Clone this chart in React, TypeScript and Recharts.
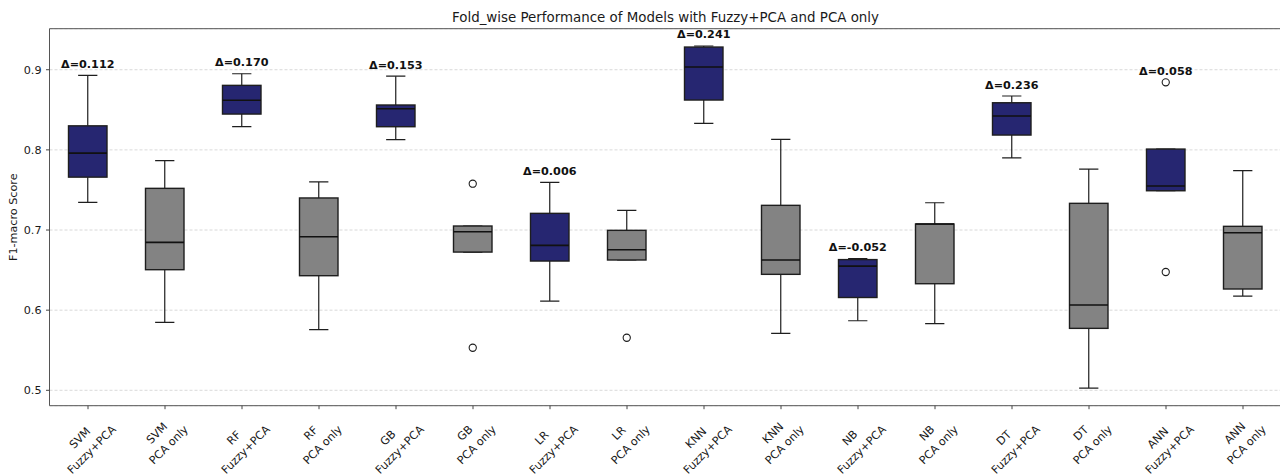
import React from 'react';
import { ComposedChart, Bar, XAxis, YAxis, CartesianGrid, ReferenceLine } from 'recharts';

// ---- data ----
const MODELS = ['SVM', 'RF', 'GB', 'LR', 'KNN', 'NB', 'DT', 'ANN'];
const GROUPS = ['Fuzzy+PCA', 'PCA only'];

// [whiskerLow, q1, median, q3, whiskerHigh]
const FUZZY_STATS = [
  [0.7345, 0.766, 0.796, 0.83, 0.893],
  [0.829, 0.8447, 0.862, 0.8805, 0.895],
  [0.8127, 0.8289, 0.8513, 0.856, 0.892],
  [0.6114, 0.6613, 0.6809, 0.7208, 0.7595],
  [0.8331, 0.8622, 0.9034, 0.9283, 0.9296],
  [0.5868, 0.6158, 0.6549, 0.6631, 0.6643],
  [0.79, 0.8185, 0.8422, 0.8588, 0.8672],
  [0.749, 0.749, 0.7549, 0.801, 0.801],
];
const PCA_STATS = [
  [0.5848, 0.6505, 0.6846, 0.752, 0.7865],
  [0.5756, 0.643, 0.6916, 0.74, 0.76],
  [0.6725, 0.6725, 0.6979, 0.705, 0.705],
  [0.6626, 0.6626, 0.6754, 0.6996, 0.7246],
  [0.5711, 0.6447, 0.6626, 0.7308, 0.8131],
  [0.5831, 0.633, 0.7075, 0.7075, 0.734],
  [0.5028, 0.5773, 0.6064, 0.7333, 0.7761],
  [0.6176, 0.6264, 0.6966, 0.7046, 0.774],
];
const FUZZY_OUTLIERS = [[], [], [], [], [], [], [], [0.6476, 0.8843]];
const PCA_OUTLIERS = [[], [], [0.5531, 0.7578], [0.5656], [], [], [], []];
const DELTAS = ['0.112', '0.170', '0.153', '0.006', '0.241', '-0.052', '0.236', '0.058'];

const Y_TICKS = [0.5, 0.6, 0.7, 0.8, 0.9];
const Y_DOMAIN = [0.4808, 0.9512];
const LABEL_OFFSET = 0.01;

const TITLE = 'Fold_wise Performance of Models with Fuzzy+PCA and PCA only';
const Y_LABEL = 'F1-macro Score';

const FUZZY_COLOR = '#262671';
const PCA_COLOR = '#838383';
const FONT = 'DejaVu Sans, sans-serif';
const FS = 11.2;
const LINE_GAP = 17;

type Row = {
  name: string;
  kind: 'fuzzy' | 'pca';
  stats: number[];
  outliers: number[];
  delta: string | null;
  lo: number;
  hi: number;
};

const rows: Row[] = MODELS.flatMap((m, i) => {
  const mk = (kind: 'fuzzy' | 'pca', stats: number[], outliers: number[], delta: string | null): Row => ({
    name: `${m}\n${kind === 'fuzzy' ? GROUPS[0] : GROUPS[1]}`,
    kind,
    stats,
    outliers,
    delta,
    lo: Math.min(stats[0], ...outliers),
    hi: Math.max(stats[4], ...outliers),
  });
  return [
    mk('fuzzy', FUZZY_STATS[i], FUZZY_OUTLIERS[i], DELTAS[i]),
    mk('pca', PCA_STATS[i], PCA_OUTLIERS[i], null),
  ];
});

let measureCtx: CanvasRenderingContext2D | null = null;
const textWidth = (s: string) => {
  try {
    if (!measureCtx) measureCtx = document.createElement('canvas').getContext('2d');
    if (measureCtx) {
      measureCtx.font = `${FS}px "DejaVu Sans"`;
      return measureCtx.measureText(s).width;
    }
  } catch (e) {
    /* ignore */
  }
  return s.length * FS * 0.6;
};

const BoxShape = (props: any) => {
  const { x, y, width, height, payload } = props;
  const r: Row = payload;
  const top = Math.min(y, y + height);
  const bottom = Math.max(y, y + height);
  const span = r.hi - r.lo;
  const pix = (v: number) => bottom - ((v - r.lo) / span) * (bottom - top);
  const [wl, q1, med, q3, wh] = r.stats;
  const cx = x + width / 2;
  const capHalf = width / 4;
  const fill = r.kind === 'fuzzy' ? FUZZY_COLOR : PCA_COLOR;
  const edge = '#1e1e1e';
  return (
    <g>
      <line x1={cx} x2={cx} y1={pix(q3)} y2={pix(wh)} stroke={edge} strokeWidth={1.2} />
      <line x1={cx} x2={cx} y1={pix(q1)} y2={pix(wl)} stroke={edge} strokeWidth={1.2} />
      <line x1={cx - capHalf} x2={cx + capHalf} y1={pix(wh)} y2={pix(wh)} stroke={edge} strokeWidth={1.2} />
      <line x1={cx - capHalf} x2={cx + capHalf} y1={pix(wl)} y2={pix(wl)} stroke={edge} strokeWidth={1.2} />
      <rect x={x} y={pix(q3)} width={width} height={pix(q1) - pix(q3)} fill={fill} stroke={edge} strokeWidth={1.4} />
      <line x1={x} x2={x + width} y1={pix(med)} y2={pix(med)} stroke="#111" strokeWidth={1.6} />
      {r.outliers.map((o, k) => (
        <circle key={k} cx={cx} cy={pix(o)} r={3.6} fill="none" stroke={edge} strokeWidth={1.1} />
      ))}
      {r.delta !== null && (
        <text
          x={cx}
          y={pix(r.hi + LABEL_OFFSET) + 0.5}
          textAnchor="middle"
          fontFamily={FONT}
          fontWeight="bold"
          fontSize={FS}
          fill="#111"
        >
          {`Δ=${r.delta}`}
        </text>
      )}
    </g>
  );
};

const XTick = (props: any) => {
  const { x, y, payload } = props;
  const [a, b] = String(payload.value).split('\n');
  const w = Math.max(textWidth(a), textWidth(b));
  const h = LINE_GAP + FS;
  // rotated block: bbox top sits just below the tick, centred on the tick
  const cy = y + 2.3 + (w + h) / (2 * Math.SQRT2);
  return (
    <g transform={`translate(${x - 2.3},${cy}) rotate(-45)`}>
      <text textAnchor="middle" fontFamily={FONT} fontSize={FS} fill="#1a1a1a">
        <tspan x={0} y={-LINE_GAP / 2 + 0.36 * FS}>{a}</tspan>
        <tspan x={0} y={LINE_GAP / 2 + 0.33 * FS}>{b}</tspan>
      </text>
    </g>
  );
};

export default function App() {
  return (
    <div style={{ position: 'absolute', left: 0, top: 0, width: 1280, height: 476, overflow: 'hidden', background: '#fff' }}>
      <ComposedChart
        width={1290}
        height={476}
        data={rows}
        margin={{ top: 28.7, right: 8.5, bottom: 0, left: 0 }}
        barCategoryGap={0}
      >
        <CartesianGrid vertical={false} stroke="#cfcfcf" strokeDasharray="3 2" strokeWidth={0.8} />
        <XAxis
          dataKey="name"
          interval={0}
          height={70.3}
          tick={<XTick />}
          tickSize={3.5}
          tickMargin={0}
          axisLine={{ stroke: '#555', strokeWidth: 1 }}
          tickLine={{ stroke: '#444', strokeWidth: 1 }}
        />
        <YAxis
          type="number"
          domain={Y_DOMAIN}
          ticks={Y_TICKS}
          allowDataOverflow
          width={49.5}
          tickSize={3.5}
          tickMargin={4.5}
          tickFormatter={(v: number) => v.toFixed(1)}
          tick={{ fontSize: FS, fill: '#1a1a1a', fontFamily: FONT }}
          axisLine={{ stroke: '#555', strokeWidth: 1 }}
          tickLine={{ stroke: '#444', strokeWidth: 1 }}
        />
        <ReferenceLine y={Y_DOMAIN[1]} stroke="#555" strokeWidth={1} ifOverflow="visible" />
        <Bar
          dataKey={(d: Row) => [d.lo, d.hi]}
          barSize={38.5}
          shape={<BoxShape />}
          isAnimationActive={false}
        />
      </ComposedChart>
      <svg width={1280} height={476} style={{ position: 'absolute', left: 0, top: 0, pointerEvents: 'none' }}>
        <text x={665.5} y={22} textAnchor="middle" fontFamily={FONT} fontSize={13.4} fill="#1a1a1a">
          {TITLE}
        </text>
        <text
          x={0}
          y={0}
          transform="translate(17,217.2) rotate(-90)"
          textAnchor="middle"
          fontFamily={FONT}
          fontSize={FS}
          fill="#1a1a1a"
        >
          {Y_LABEL}
        </text>
      </svg>
    </div>
  );
}
